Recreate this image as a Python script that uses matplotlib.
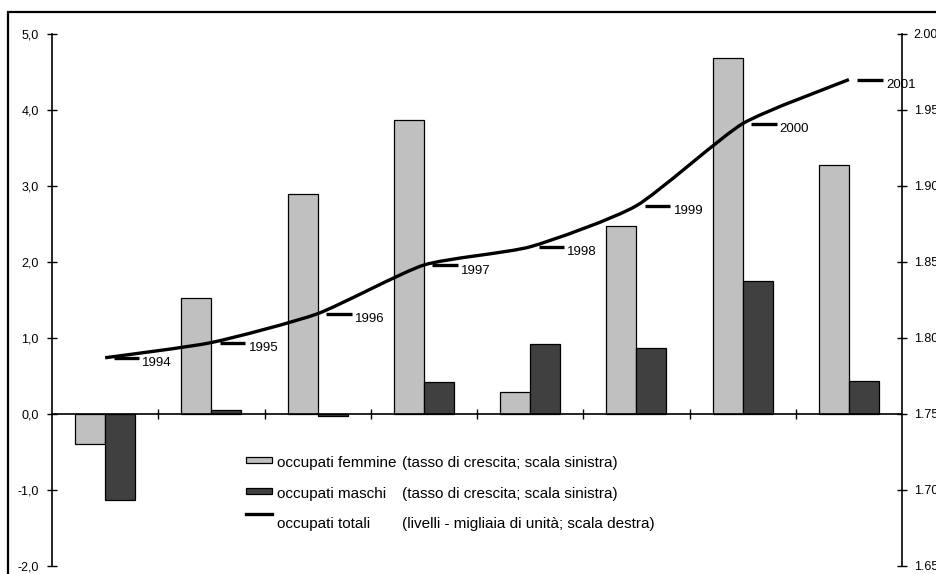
import matplotlib
matplotlib.use("Agg")
import matplotlib.pyplot as plt
from matplotlib.patches import Rectangle, PathPatch
from matplotlib.path import Path
from matplotlib.lines import Line2D
from matplotlib.ticker import FuncFormatter, MultipleLocator, FixedLocator
import numpy as np

plt.rcParams['font.family'] = ['Liberation Sans', 'DejaVu Sans']

years = ["1994", "1995", "1996", "1997", "1998", "1999", "2000", "2001"]
femmine = [-0.40, 1.53, 2.90, 3.87, 0.29, 2.48, 4.68, 3.27]
maschi = [-1.13, 0.05, -0.03, 0.42, 0.92, 0.87, 1.75, 0.44]
totali = [1.787, 1.797, 1.816, 1.848, 1.860, 1.887, 1.941, 1.970]

legend_names = ["occupati femmine", "occupati maschi", "occupati totali"]
legend_notes = ["(tasso di crescita; scala sinistra)",
                "(tasso di crescita; scala sinistra)",
                "(livelli - migliaia di unità; scala destra)"]

C_F = "#C0C0C0"
C_M = "#404040"

fig = plt.figure(figsize=(9.37, 5.74), dpi=100)
W, H = 937, 574
ax = fig.add_axes([52 / W, 1 - 566 / H, (902 - 52) / W, (566 - 34) / H])
ax2 = ax.twinx()

x = np.arange(len(years))
bw = 0.282
ax.bar(x - bw / 2, femmine, width=bw, color=C_F, edgecolor="black", linewidth=0.9, zorder=2)
ax.bar(x + bw / 2, maschi, width=bw, color=C_M, edgecolor="black", linewidth=0.9, zorder=2)

ax.set_xlim(-0.5, len(years) - 0.5)
ax.set_ylim(-2, 5)
ax.yaxis.set_major_locator(MultipleLocator(1))
ax.yaxis.set_major_formatter(FuncFormatter(lambda v, p: f"{v:.1f}".replace(".", ",")))

for s in ["top"]:
    ax.spines[s].set_visible(False)
    ax2.spines[s].set_visible(False)
ax.spines["bottom"].set_position(("data", 0))
ax2.spines["bottom"].set_visible(False)
ax.spines["right"].set_visible(False)
ax2.spines["left"].set_visible(False)
for sp in [ax.spines["left"], ax.spines["bottom"], ax2.spines["right"]]:
    sp.set_linewidth(1.2)
ax.xaxis.set_major_locator(FixedLocator(np.arange(0.5, len(years) - 0.5, 1.0)))
ax.tick_params(axis="x", direction="inout", length=7, width=1.0, labelbottom=False)
ax.tick_params(axis="y", direction="inout", length=7, width=1.0, labelsize=9, pad=6)

ax2.set_ylim(1.65, 2.00)
ax2.yaxis.set_major_locator(FixedLocator(np.arange(1.65, 2.0001, 0.05)))
ax2.yaxis.set_major_formatter(FuncFormatter(lambda v, p: f"{v:.2f}"))
ax2.tick_params(axis="y", direction="inout", length=7, width=1.0, labelsize=9, pad=5)

# lightly smoothed line through the yearly totals (cubic Bezier segments)
pts = np.column_stack([x, totali]).astype(float)
verts = [tuple(pts[0])]
codes = [Path.MOVETO]
n = len(pts)
k = 10.0
for i in range(n - 1):
    p0 = pts[i - 1] if i > 0 else pts[i]
    p1, p2 = pts[i], pts[i + 1]
    p3 = pts[i + 2] if i + 2 < n else pts[i + 1]
    c1 = p1 + (p2 - p0) / k
    c2 = p2 - (p3 - p1) / k
    verts += [tuple(c1), tuple(c2), tuple(p2)]
    codes += [Path.CURVE4] * 3
ax2.add_patch(PathPatch(Path(verts, codes), fill=False, edgecolor="black",
                        linewidth=2.4, capstyle="butt", joinstyle="round", zorder=3))

for xi, yi, lab in zip(x, totali, years):
    ax2.plot([xi + 0.08, xi + 0.32], [yi, yi], color="black", linewidth=2.4,
             solid_capstyle="butt", zorder=3)
    ax2.annotate(lab, (xi + 0.35, yi), xytext=(0, -4), textcoords="offset points",
                 ha="left", va="center", fontsize=9.5)

ax.set_zorder(ax2.get_zorder() - 1)
ax.patch.set_visible(False)
ax2.patch.set_visible(False)

# legend drawn in figure pixel coordinates
rows_y = [461, 492, 522]
for i, (name, note, yy) in enumerate(zip(legend_names, legend_notes, rows_y)):
    if i < 2:
        col = C_F if i == 0 else C_M
        fig.add_artist(Rectangle((246 / W, 1 - (yy + 2) / H), 26 / W, 6 / H,
                                 facecolor=col, edgecolor="black", linewidth=0.9,
                                 transform=fig.transFigure))
    else:
        fig.add_artist(Line2D([246 / W, 272 / W], [1 - (yy - 8) / H] * 2, color="black",
                              linewidth=2.4, transform=fig.transFigure))
    fig.text(277 / W, 1 - (yy + 2) / H, name, ha="left", va="center", fontsize=11)
    fig.text(402 / W, 1 - (yy + 2) / H, note, ha="left", va="center", fontsize=11)

# outer frame
fig.add_artist(Rectangle((8 / W, -0.2), 1.2, 1 - 12 / H + 0.2, fill=False,
                         edgecolor="black", linewidth=1.6, transform=fig.transFigure))

fig.savefig("out.png", dpi=100)
